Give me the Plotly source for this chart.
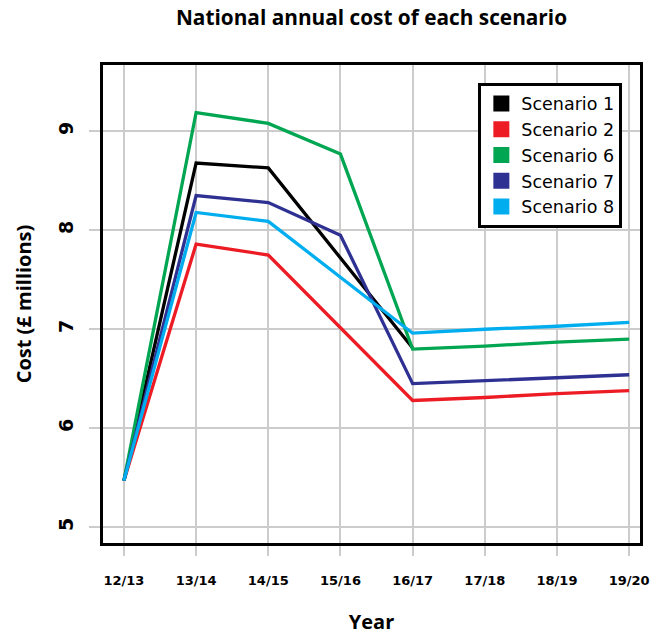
import plotly.graph_objects as go

years = ["12/13", "13/14", "14/15", "15/16", "16/17", "17/18", "18/19", "19/20"]
scenario_names = ["Scenario 1", "Scenario 2", "Scenario 6", "Scenario 7", "Scenario 8"]
scenario_1 = [5.47, 8.68, 8.63, 7.72, 6.81, None, None, None]
scenario_2 = [5.47, 7.86, 7.75, 7.02, 6.28, 6.31, 6.35, 6.38]
scenario_6 = [5.47, 9.19, 9.08, 8.77, 6.80, 6.83, 6.87, 6.90]
scenario_7 = [5.47, 8.35, 8.28, 7.95, 6.45, 6.48, 6.51, 6.54]
scenario_8 = [5.47, 8.18, 8.09, 7.52, 6.96, 7.00, 7.03, 7.07]
colors = ["#000000", "#ED1C24", "#00A651", "#2E3192", "#00AEEF"]
y_ticks = [5, 6, 7, 8, 9]

series = [scenario_1, scenario_2, scenario_6, scenario_7, scenario_8]

fig = go.Figure()
for i in range(5):
    fig.add_trace(go.Scatter(
        x=list(range(len(years))), y=series[i], mode="lines",
        line=dict(color=colors[i], width=3.3), showlegend=False,
        name=scenario_names[i], connectgaps=False))
for i in range(5):
    fig.add_trace(go.Scatter(
        x=[None], y=[None], mode="markers", name=scenario_names[i],
        marker=dict(symbol="square", size=17, color=colors[i]), showlegend=True))

fig.update_layout(
    width=653, height=639,
    margin=dict(l=103, r=13, t=65, b=96, autoexpand=False),
    paper_bgcolor="white", plot_bgcolor="white",
    title=dict(text="<b>National annual cost of each scenario</b>", x=0.5, xref="paper",
               y=0.972, yanchor="middle",
               font=dict(family="Open Sans", size=20.8, color="black")),
    legend=dict(x=0.699, y=0.963, xanchor="left", yanchor="top",
                bordercolor="black", borderwidth=3, bgcolor="white",
                font=dict(family="DejaVu Sans", size=17.5, color="black"),
                tracegroupgap=0, itemsizing="trace"),
    xaxis=dict(
        range=[-0.29, 7.15], tickmode="array", tickvals=list(range(len(years))), ticktext=years,
        showgrid=True, gridcolor="#cccccc", gridwidth=2,
        ticks="outside", ticklen=10, tickcolor="#cccccc", tickwidth=2,
        showline=True, linecolor="black", linewidth=3, mirror=True,
        tickfont=dict(family="DejaVu Sans", size=13, color="black", weight="bold"),
        ticklabelstandoff=13,
        title=dict(text="<b>Year</b>", font=dict(family="Open Sans", size=20, color="black"), standoff=29),
        zeroline=False, automargin=False),
    yaxis=dict(
        range=[4.84, 9.67], tickvals=y_ticks, ticktext=[str(v) for v in y_ticks],
        showgrid=True, gridcolor="#cccccc", gridwidth=2,
        ticks="outside", ticklen=11, tickcolor="#cccccc", tickwidth=2,
        showline=True, linecolor="black", linewidth=3, mirror=True,
        tickangle=-90, ticklabelstandoff=8,
        tickfont=dict(family="DejaVu Sans", size=19, color="black", weight="bold"),
        title=dict(text="<b>Cost (£ millions)</b>", font=dict(family="Open Sans", size=20, color="black"), standoff=19),
        zeroline=False, automargin=False),
)

fig.write_html(
    "out.html",
    config={"displayModeBar": False},
    post_script="document.body.style.margin='0';document.body.style.overflow='hidden';",
)
